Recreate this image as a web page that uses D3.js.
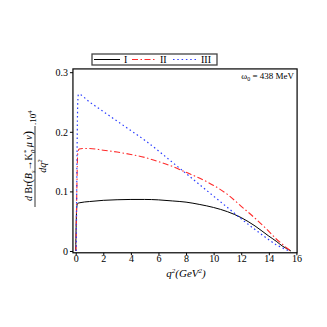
<!DOCTYPE html>
<html>
<head>
    <meta charset="utf-8">
    <title>dBr/dq2</title>
    <script src="https://d3js.org/d3.v7.min.js"></script>
    <style>
        body { margin: 0; background: #fff; }
        text { font-family: "Liberation Serif", "DejaVu Serif", serif; fill: #000; }
    </style>
</head>
<body>
    <svg width="327" height="327"></svg>
    <script>
        // data
        var qI  = [0, 0.03, 0.08, 0.15, 0.3, 1, 2, 3, 4, 5, 6, 7, 8, 9, 10, 11, 12, 13, 14, 14.58, 15, 15.3, 15.6];
        var brI = [0, 0.04, 0.074, 0.080, 0.081, 0.083, 0.085, 0.086, 0.0865, 0.0865, 0.0858, 0.084, 0.082, 0.078, 0.073, 0.066, 0.056, 0.042, 0.025, 0.0156, 0.008, 0.004, 0];

        var qII  = [0.02, 0.08, 0.15, 0.25, 0.5, 1, 2, 3, 4, 5, 6, 7, 8, 9, 10, 11, 12, 13, 14, 14.5, 15, 15.3, 15.6];
        var brII = [0, 0.1, 0.165, 0.171, 0.172, 0.172, 0.169, 0.166, 0.162, 0.157, 0.150, 0.142, 0.132, 0.122, 0.110, 0.095, 0.075, 0.055, 0.033, 0.021, 0.011, 0.005, 0];

        var qIII  = [0.04, 0.1, 0.15, 0.2, 1, 2, 3, 4, 5, 6, 7, 8, 9, 10, 11, 12, 13, 14, 14.5, 15, 15.47];
        var brIII = [0, 0.17, 0.25, 0.263, 0.250, 0.234, 0.218, 0.202, 0.186, 0.168, 0.149, 0.130, 0.111, 0.092, 0.073, 0.054, 0.036, 0.019, 0.011, 0.005, 0];

        var xTicks = [0, 2, 4, 6, 8, 10, 12, 14, 16];
        var yTicks = [0, 0.1, 0.2, 0.3];
        var names = ["I", "II", "III"];

        var svg = d3.select("svg");

        // scales
        var x = d3.scaleLinear().domain([0, 16]).range([75.7, 296.4]);
        var y = d3.scaleLinear().domain([0, 0.3]).range([251, 72.2]);

        var xLeft = x(-0.2), xRight = x(16.05);
        var yTop = y(0.3055), yBottom = y(-0.003);

        // frame
        svg.append("rect")
            .attr("x", xLeft).attr("y", yTop)
            .attr("width", xRight - xLeft).attr("height", yBottom - yTop)
            .attr("fill", "none").attr("stroke", "#000").attr("stroke-width", 1.2);

        // axes
        var xAxis = d3.axisBottom(x).tickValues(xTicks).tickSize(2.5).tickPadding(0)
            .tickFormat(d3.format("d"));
        svg.append("g").attr("transform", "translate(0," + yBottom + ")")
            .call(xAxis)
            .call(function (g) { g.select(".domain").remove(); })
            .selectAll("text").style("font-size", "10px").attr("fill", "#000");

        var yAxis = d3.axisLeft(y).tickValues(yTicks).tickSize(3).tickPadding(2)
            .tickFormat(function (d) { return d === 0 ? "0" : d3.format(".1f")(d); });
        svg.append("g").attr("transform", "translate(" + xLeft + ",0)")
            .call(yAxis)
            .call(function (g) { g.select(".domain").remove(); })
            .selectAll("text").style("font-size", "10px").attr("fill", "#000");

        // curves
        var line = d3.line()
            .x(function (d) { return x(d[0]); })
            .y(function (d) { return y(d[1]); })
            .curve(d3.curveMonotoneX);

        var series = [
            { q: qI, v: brI, color: "#000", dash: null, w: 1 },
            { q: qII, v: brII, color: "#ff2a2a", dash: "6,2.5,1.5,2.5", w: 1.1 },
            { q: qIII, v: brIII, color: "#2a3cff", dash: "1.5,2.8", w: 1.2 }
        ];

        series.forEach(function (s) {
            svg.append("path")
                .datum(d3.zip(s.q, s.v))
                .attr("d", line)
                .attr("fill", "none")
                .attr("stroke", s.color)
                .attr("stroke-width", s.w)
                .attr("stroke-dasharray", s.dash);
        });

        // legend
        svg.append("rect")
            .attr("x", 92).attr("y", 54).attr("width", 125).attr("height", 11)
            .attr("fill", "#fff").attr("stroke", "#444").attr("stroke-width", 1.3);
        var legX = [[94, 120, 124], [132, 157, 160], [173, 196, 201]];
        series.forEach(function (s, i) {
            svg.append("line")
                .attr("x1", legX[i][0]).attr("x2", legX[i][1])
                .attr("y1", 59.5).attr("y2", 59.5)
                .attr("stroke", s.color).attr("stroke-width", s.w)
                .attr("stroke-dasharray", s.dash);
            svg.append("text")
                .attr("x", legX[i][2]).attr("y", 63)
                .style("font-size", "10px")
                .text(names[i]);
        });

        // annotation
        var ann = svg.append("text")
            .attr("x", 294).attr("y", 79)
            .attr("text-anchor", "end")
            .style("font-size", "9px");
        ann.append("tspan").text("\u03c9");
        ann.append("tspan").attr("dy", 2).style("font-size", "6px").text("0");
        ann.append("tspan").attr("dy", -2).text(" = 438 MeV");

        // x label
        var xl = svg.append("text")
            .attr("x", 186).attr("y", 277)
            .attr("text-anchor", "middle")
            .style("font-size", "11px").style("font-style", "italic");
        xl.append("tspan").text("q");
        xl.append("tspan").attr("dy", -4).style("font-size", "7px").text("2");
        xl.append("tspan").attr("dy", 4).text("(GeV");
        xl.append("tspan").attr("dy", -4).style("font-size", "7px").text("2");
        xl.append("tspan").attr("dy", 4).text(")");

        // y label (rotated fraction)
        var yl = svg.append("g").attr("transform", "translate(35,162) rotate(-90)");
        var num = yl.append("text")
            .attr("x", -4).attr("y", -3)
            .attr("text-anchor", "middle")
            .style("font-size", "10px").style("font-style", "italic");
        num.append("tspan").text("d ");
        num.append("tspan").style("font-style", "normal").text("Br");
        num.append("tspan").style("font-style", "normal").style("font-size", "13px").text("(");
        num.append("tspan").text("B");
        num.append("tspan").attr("dy", 2.5).style("font-size", "6.5px").text("s");
        num.append("tspan").attr("dy", -2.5).style("font-style", "normal").text("\u2192K");
        num.append("tspan").attr("dy", -4).style("font-size", "6.5px").text("*");
        num.append("tspan").attr("dx", -3).attr("dy", 7).style("font-size", "6.5px").text("0");
        num.append("tspan").attr("dy", -3).text(" \u03bc \u03bd");
        num.append("tspan").style("font-style", "normal").style("font-size", "13px").text(")");

        yl.append("line")
            .attr("x1", -45).attr("x2", 36).attr("y1", 0).attr("y2", 0)
            .attr("stroke", "#000").attr("stroke-width", 0.8);

        var pow = yl.append("text")
            .attr("x", 37).attr("y", 1)
            .style("font-size", "9px");
        pow.append("tspan").text(".10");
        pow.append("tspan").attr("dy", -4).style("font-size", "6.5px").text("4");

        var den = yl.append("text")
            .attr("x", -4).attr("y", 11)
            .attr("text-anchor", "middle")
            .style("font-size", "10px").style("font-style", "italic");
        den.append("tspan").text("dq");
        den.append("tspan").attr("dy", -4).style("font-size", "6.5px").text("2");
    </script>
</body>
</html>
